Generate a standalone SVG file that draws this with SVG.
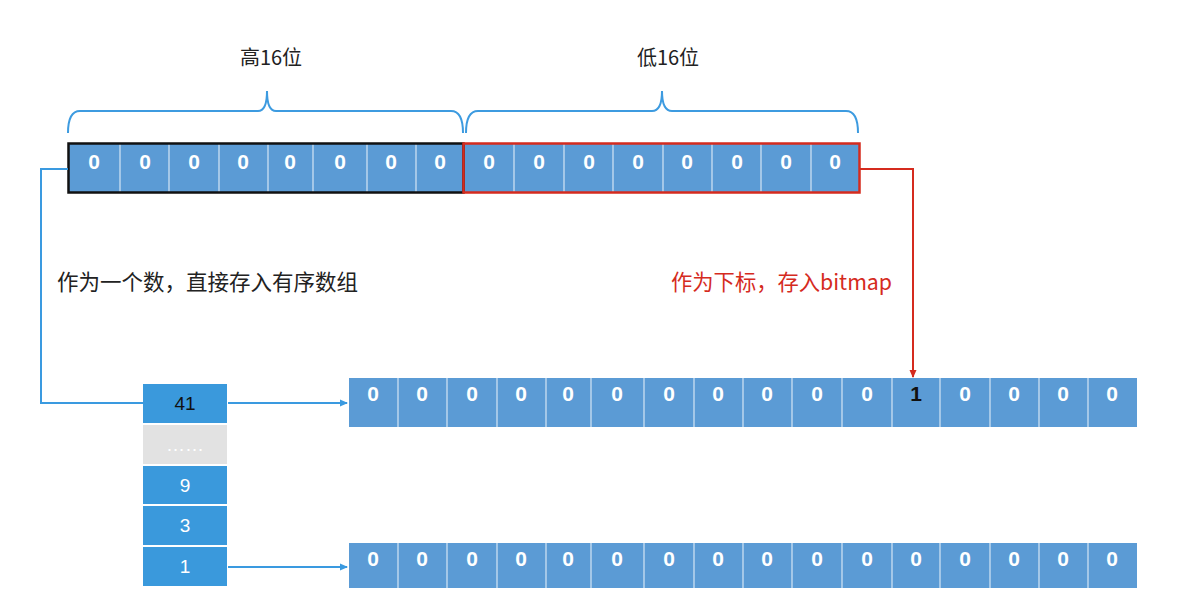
<svg xmlns="http://www.w3.org/2000/svg" width="1178" height="610" viewBox="0 0 1178 610">
<defs>
<marker id="ab" markerWidth="8" markerHeight="8" refX="7" refY="4" orient="auto" markerUnits="userSpaceOnUse"><path d="M0,0.5 L8,4 L0,7.5 Z" fill="#3a9ae0"/></marker>
<marker id="ar" markerWidth="8" markerHeight="8" refX="7" refY="4" orient="auto" markerUnits="userSpaceOnUse"><path d="M0,0.5 L8,4 L0,7.5 Z" fill="#d52b1e"/></marker>
<style>
.cell{fill:#5b9bd5}
.div{stroke:#d6e6f5;stroke-width:1.2}
.d{font-family:"Liberation Sans",Arial,sans-serif;font-weight:bold;font-size:21px;fill:#fff;text-anchor:middle}
.c{font-family:"Liberation Sans",Arial,sans-serif;font-size:19px;fill:#fff;text-anchor:middle}
.lbl{font-family:"Noto Sans CJK SC",sans-serif;font-size:20px;fill:#222}
.col{fill:#3a99dc}
.brace{fill:none;stroke:#3d9be0;stroke-width:2}
.conn{fill:none;stroke:#3a9ae0;stroke-width:2}
</style>
</defs>
<rect width="1178" height="610" fill="#fff"/>

<g id="labels">
<text class="lbl" x="271" y="65" text-anchor="middle">高16位</text>
<text class="lbl" x="668" y="65" text-anchor="middle">低16位</text>
<text class="lbl" x="57" y="290" style="font-size:21.5px">作为一个数，直接存入有序数组</text>
<text class="lbl" x="671" y="290" style="font-size:21.3px;fill:#d52b1e">作为下标，存入bitmap</text>
</g>

<g id="braces">
<path class="brace" d="M68,133 Q68,111 80,111 H258 Q267,111 267,91 Q267,111 276,111 H451 Q463,111 463,133"/>
<path class="brace" d="M466,133 Q466,111 478,111 H652 Q662,111 662,91 Q662,111 672,111 H846 Q858,111 858,133"/>
</g>

<g id="top-bar">
<rect class="cell" x="68" y="143" width="792" height="50"/>
<g class="div">
<line x1="120" y1="144" x2="120" y2="192"/><line x1="169" y1="144" x2="169" y2="192"/><line x1="219" y1="144" x2="219" y2="192"/><line x1="268" y1="144" x2="268" y2="192"/><line x1="313" y1="144" x2="313" y2="192"/><line x1="367" y1="144" x2="367" y2="192"/><line x1="416" y1="144" x2="416" y2="192"/>
<line x1="514" y1="144" x2="514" y2="192"/><line x1="564" y1="144" x2="564" y2="192"/><line x1="613" y1="144" x2="613" y2="192"/><line x1="663" y1="144" x2="663" y2="192"/><line x1="712" y1="144" x2="712" y2="192"/><line x1="761" y1="144" x2="761" y2="192"/><line x1="811" y1="144" x2="811" y2="192"/>
</g>
<rect x="68.5" y="143.5" width="395" height="49" fill="none" stroke="#111" stroke-width="2.5"/>
<rect x="463.5" y="143.5" width="396" height="49" fill="none" stroke="#d52b1e" stroke-width="2.5"/>
<g class="d">
<text x="94" y="169">0</text><text x="145" y="169">0</text><text x="194" y="169">0</text><text x="243" y="169">0</text><text x="290" y="169">0</text><text x="340" y="169">0</text><text x="391" y="169">0</text><text x="440" y="169">0</text>
<text x="489" y="169">0</text><text x="539" y="169">0</text><text x="589" y="169">0</text><text x="638" y="169">0</text><text x="687" y="169">0</text><text x="737" y="169">0</text><text x="786" y="169">0</text><text x="835" y="169">0</text>
</g>
</g>

<g id="sorted-array">
<rect class="col" x="143" y="384" width="84" height="39"/>
<rect x="143" y="425" width="84" height="39" fill="#e2e2e2"/>
<rect class="col" x="143" y="466" width="84" height="38"/>
<rect class="col" x="143" y="506" width="84" height="39"/>
<rect class="col" x="143" y="547" width="84" height="39"/>
<text class="c" x="185" y="410" style="fill:#111">41</text>
<text class="c" x="185" y="451">……</text>
<text class="c" x="185" y="492">9</text>
<text class="c" x="185" y="532">3</text>
<text class="c" x="185" y="573">1</text>
</g>

<g id="bitmap-41">
<rect class="cell" x="349" y="378" width="788" height="49"/>
<g class="div">
<line x1="398" y1="378" x2="398" y2="427"/><line x1="447" y1="378" x2="447" y2="427"/><line x1="497" y1="378" x2="497" y2="427"/><line x1="546" y1="378" x2="546" y2="427"/><line x1="591" y1="378" x2="591" y2="427"/><line x1="644" y1="378" x2="644" y2="427"/><line x1="694" y1="378" x2="694" y2="427"/><line x1="743" y1="378" x2="743" y2="427"/><line x1="792" y1="378" x2="792" y2="427"/><line x1="842" y1="378" x2="842" y2="427"/><line x1="892" y1="378" x2="892" y2="427"/><line x1="940" y1="378" x2="940" y2="427"/><line x1="990" y1="378" x2="990" y2="427"/><line x1="1039" y1="378" x2="1039" y2="427"/><line x1="1088" y1="378" x2="1088" y2="427"/>
</g>
<g class="d">
<text x="373" y="401">0</text><text x="422" y="401">0</text><text x="472" y="401">0</text><text x="521" y="401">0</text><text x="568" y="401">0</text><text x="617" y="401">0</text><text x="669" y="401">0</text><text x="718" y="401">0</text><text x="767" y="401">0</text><text x="817" y="401">0</text><text x="867" y="401">0</text><text x="916" y="401" style="fill:#111">1</text><text x="965" y="401">0</text><text x="1014" y="401">0</text><text x="1063" y="401">0</text><text x="1112" y="401">0</text>
</g>
</g>

<g id="bitmap-1">
<rect class="cell" x="349" y="543" width="788" height="45"/>
<g class="div">
<line x1="398" y1="543" x2="398" y2="588"/><line x1="447" y1="543" x2="447" y2="588"/><line x1="497" y1="543" x2="497" y2="588"/><line x1="546" y1="543" x2="546" y2="588"/><line x1="591" y1="543" x2="591" y2="588"/><line x1="644" y1="543" x2="644" y2="588"/><line x1="694" y1="543" x2="694" y2="588"/><line x1="743" y1="543" x2="743" y2="588"/><line x1="792" y1="543" x2="792" y2="588"/><line x1="842" y1="543" x2="842" y2="588"/><line x1="892" y1="543" x2="892" y2="588"/><line x1="940" y1="543" x2="940" y2="588"/><line x1="990" y1="543" x2="990" y2="588"/><line x1="1039" y1="543" x2="1039" y2="588"/><line x1="1088" y1="543" x2="1088" y2="588"/>
</g>
<g class="d">
<text x="373" y="566">0</text><text x="422" y="566">0</text><text x="472" y="566">0</text><text x="521" y="566">0</text><text x="568" y="566">0</text><text x="617" y="566">0</text><text x="669" y="566">0</text><text x="718" y="566">0</text><text x="767" y="566">0</text><text x="817" y="566">0</text><text x="867" y="566">0</text><text x="916" y="566">0</text><text x="965" y="566">0</text><text x="1014" y="566">0</text><text x="1063" y="566">0</text><text x="1112" y="566">0</text>
</g>
</g>

<g id="connectors">
<path class="conn" d="M68,169 H41 V403 H143"/>
<path class="conn" d="M228,403 H347" marker-end="url(#ab)"/>
<path class="conn" d="M228,567 H347" marker-end="url(#ab)"/>
<path d="M860,169 H913 V377" fill="none" stroke="#d52b1e" stroke-width="2" marker-end="url(#ar)"/>
</g>
</svg>
